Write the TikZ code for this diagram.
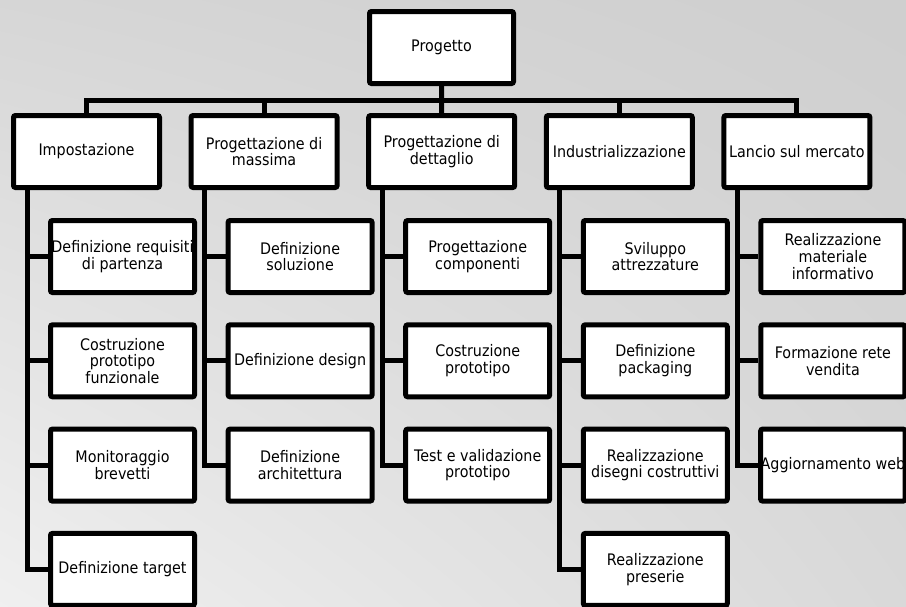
\documentclass[tikz,border=0pt]{standalone}
\usepackage{fontspec}
\setmainfont{DejaVu Sans}[FakeStretch=0.9]
\usetikzlibrary{shadings}

\begin{document}
\begin{tikzpicture}[x=1pt, y=-1pt]
\tikzset{ box/.style={draw, fill=white, line width=5pt, rounded corners=2pt, inner sep=0pt,
            align=center, font=\fontsize{15.9}{16.7}\selectfont},
          top/.style={box, minimum width=146, minimum height=72},
          sub/.style={box, minimum width=144, minimum height=72},
          link/.style={line width=5pt} }

% background
\shade [upper left=black!16, upper right=black!19, lower left=black!6, lower right=black!15]
      (0,0) rectangle (906,606);
\useasboundingbox (0,0) rectangle (906,606);

\node [box, minimum width=144, minimum height=72] (P) at (441.5,47.5) {Progetto};

\node [top] (I) at (86.5,151.5)  {Impostazione};
\node [top] (M) at (264.1,151.5) {Progettazione di\\massima};
\node [top] (D) at (441.7,151.5) {Progettazione di\\dettaglio};
\node [top] (N) at (619.3,151.5) {Industrializzazione};
\node [top] (L) at (796.9,151.5) {Lancio sul mercato};

\node [sub] (I1) at (122.5,256.5) {Definizione requisiti\\di partenza};
\node [sub] (I2) at (122.5,360.8) {Costruzione\\prototipo\\funzionale};
\node [sub] (I3) at (122.5,465.1) {Monitoraggio\\brevetti};
\node [sub] (I4) at (122.5,569.4) {Definizione target};

\node [sub] (M1) at (300.1,256.5) {Definizione\\soluzione};
\node [sub] (M2) at (300.1,360.8) {Definizione design};
\node [sub] (M3) at (300.1,465.1) {Definizione\\architettura};

\node [sub] (D1) at (477.7,256.5) {Progettazione\\componenti};
\node [sub] (D2) at (477.7,360.8) {Costruzione\\prototipo};
\node [sub] (D3) at (477.7,465.1) {Test e validazione\\prototipo};

\node [sub] (N1) at (655.3,256.5) {Sviluppo\\attrezzature};
\node [sub] (N2) at (655.3,360.8) {Definizione\\packaging};
\node [sub] (N3) at (655.3,465.1) {Realizzazione\\disegni costruttivi};
\node [sub] (N4) at (655.3,569.4) {Realizzazione\\preserie};

\node [sub] (L1) at (832.9,256.5) {Realizzazione\\materiale\\informativo};
\node [sub] (L2) at (832.9,360.8) {Formazione rete\\vendita};
\node [sub] (L3) at (832.9,465.1) {Aggiornamento web};

% root to phases
\draw [link] (P.south) -- ++(0,14) -| (I.north);
\draw [link] (P.south) -- ++(0,14) -| (M.north);
\draw [link] (P.south) -- (D.north);
\draw [link] (P.south) -- ++(0,14) -| (N.north);
\draw [link] (P.south) -- ++(0,14) -| (L.north);

% spines
\coordinate (Is) at ([xshift=16pt]I.south west);
\coordinate (Ms) at ([xshift=16pt]M.south west);
\coordinate (Ds) at ([xshift=16pt]D.south west);
\coordinate (Ns) at ([xshift=16pt]N.south west);
\coordinate (Ls) at ([xshift=16pt]L.south west);

\draw [link] (Is) |- (I4.west);
\draw [link] (I1.west) -- (I1.west -| Is);
\draw [link] (I2.west) -- (I2.west -| Is);
\draw [link] (I3.west) -- (I3.west -| Is);

\draw [link] (Ms) |- (M3.west);
\draw [link] (M1.west) -- (M1.west -| Ms);
\draw [link] (M2.west) -- (M2.west -| Ms);

\draw [link] (Ds) |- (D3.west);
\draw [link] (D1.west) -- (D1.west -| Ds);
\draw [link] (D2.west) -- (D2.west -| Ds);

\draw [link] (Ns) |- (N4.west);
\draw [link] (N1.west) -- (N1.west -| Ns);
\draw [link] (N2.west) -- (N2.west -| Ns);
\draw [link] (N3.west) -- (N3.west -| Ns);

\draw [link] (Ls) |- (L3.west);
\draw [link] (L1.west) -- (L1.west -| Ls);
\draw [link] (L2.west) -- (L2.west -| Ls);
\end{tikzpicture}
\end{document}
